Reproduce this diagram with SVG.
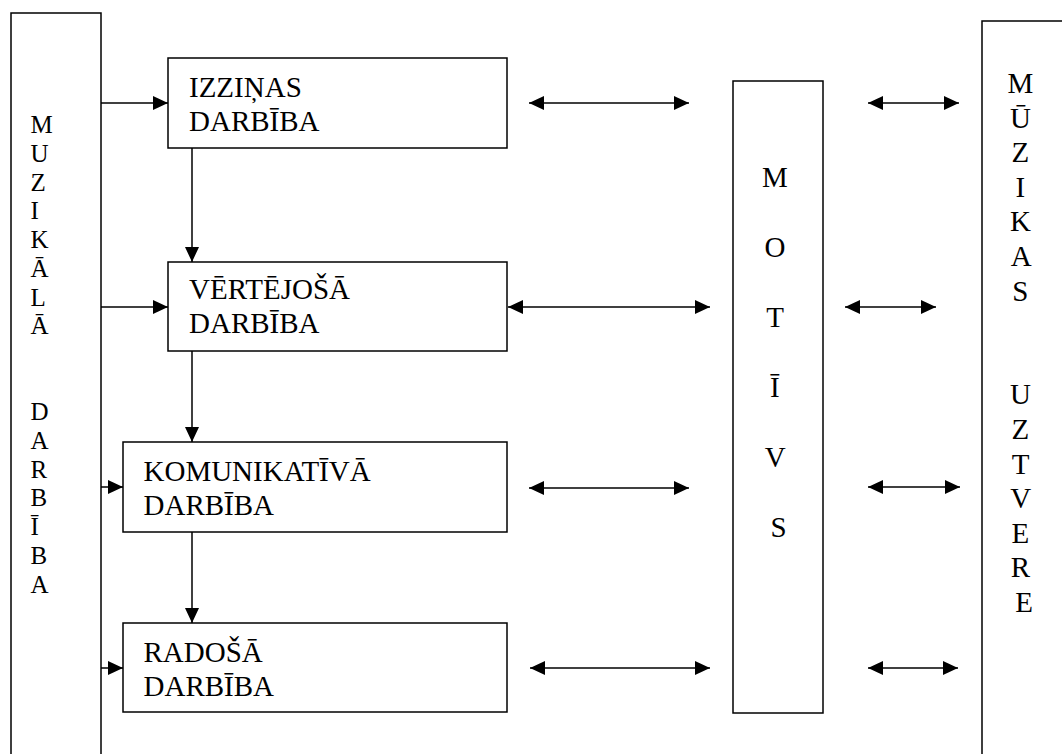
<svg xmlns="http://www.w3.org/2000/svg" width="1062" height="754" viewBox="0 0 1062 754">
  <style>
    .box { fill: #ffffff; stroke: #000000; stroke-width: 1.5; }
    text { font-family: 'Liberation Serif', Tinos, 'Times New Roman', 'Noto Serif', 'DejaVu Serif', serif; fill: #000000; }
    .lbl { font-size: 29px; }
    .conn line { stroke: #000000; stroke-width: 1.5; fill: none; }
    .one { marker-end: url(#head); }
    .two { marker-start: url(#head); marker-end: url(#head); }
  </style>
  <defs>
    <marker id="head" markerUnits="userSpaceOnUse" markerWidth="17" markerHeight="16" refX="15" refY="7" orient="auto-start-reverse" viewBox="0 0 17 16">
      <path d="M0,0 L15,7 L0,14 Z" fill="#000000"/>
    </marker>
  </defs>
  <rect width="1062" height="754" fill="#ffffff"/>

  <!-- left column: MUZIKĀLĀ DARBĪBA -->
  <g id="muzikala-darbiba">
    <rect class="box" x="11" y="13" width="90" height="760"/>
    <text font-family="Liberation Serif, serif" font-size="25">
      <tspan x="30.5" y="133.3">M</tspan>
      <tspan x="30.5" y="162">U</tspan>
      <tspan x="30.5" y="190.7">Z</tspan>
      <tspan x="30.5" y="219.4">I</tspan>
      <tspan x="30.5" y="248.1">K</tspan>
      <tspan x="30.5" y="276.8">Ā</tspan>
      <tspan x="30.5" y="305.5">L</tspan>
      <tspan x="30.5" y="334.2">Ā</tspan>
      <tspan x="30.5" y="420.3">D</tspan>
      <tspan x="30.5" y="449">A</tspan>
      <tspan x="30.5" y="477.7">R</tspan>
      <tspan x="30.5" y="506.4">B</tspan>
      <tspan x="30.5" y="535.1">Ī</tspan>
      <tspan x="30.5" y="563.8">B</tspan>
      <tspan x="30.5" y="592.5">A</tspan>
    </text>
  </g>

  <!-- activity boxes -->
  <g id="izzinas-darbiba">
    <rect class="box" x="168" y="58" width="339" height="90"/>
    <text class="lbl"><tspan x="189" y="96.5">IZZIŅAS</tspan><tspan x="189" y="130.7">DARBĪBA</tspan></text>
  </g>
  <g id="vertejosa-darbiba">
    <rect class="box" x="168" y="262" width="339" height="89"/>
    <text class="lbl"><tspan x="189" y="299.3">VĒRTĒJOŠĀ</tspan><tspan x="189" y="333.3">DARBĪBA</tspan></text>
  </g>
  <g id="komunikativa-darbiba">
    <rect class="box" x="123" y="442" width="384" height="90"/>
    <text class="lbl"><tspan x="143.5" y="481">KOMUNIKATĪVĀ</tspan><tspan x="143.5" y="515">DARBĪBA</tspan></text>
  </g>
  <g id="radosa-darbiba">
    <rect class="box" x="123" y="623" width="384" height="89"/>
    <text class="lbl"><tspan x="143.5" y="662">RADOŠĀ</tspan><tspan x="143.5" y="695.5">DARBĪBA</tspan></text>
  </g>

  <!-- MOTĪVS column -->
  <g id="motivs">
    <rect class="box" x="733" y="81" width="90" height="632"/>
    <text font-size="29" text-anchor="middle">
      <tspan x="778.5" y="187.3">M</tspan>
      <tspan x="778.5" y="257.2">O</tspan>
      <tspan x="778.5" y="327.1">T</tspan>
      <tspan x="778.5" y="397">Ī</tspan>
      <tspan x="778.5" y="466.9">V</tspan>
      <tspan x="778.5" y="536.8">S</tspan>
    </text>
  </g>

  <!-- right column: MŪZIKAS UZTVERE -->
  <g id="muzikas-uztvere">
    <rect class="box" x="982" y="21" width="110" height="760"/>
    <text font-size="29" text-anchor="middle">
      <tspan x="1024" y="93">M</tspan>
      <tspan x="1024" y="127.6">Ū</tspan>
      <tspan x="1024" y="162.2">Z</tspan>
      <tspan x="1024" y="196.8">I</tspan>
      <tspan x="1024" y="231.4">K</tspan>
      <tspan x="1024" y="266">A</tspan>
      <tspan x="1024" y="300.6">S</tspan>
      <tspan x="1024" y="404.4">U</tspan>
      <tspan x="1024" y="439">Z</tspan>
      <tspan x="1024" y="473.6">T</tspan>
      <tspan x="1024" y="508.2">V</tspan>
      <tspan x="1024" y="542.8">E</tspan>
      <tspan x="1024" y="577.4">R</tspan>
      <tspan x="1024" y="612">E</tspan>
    </text>
  </g>

  <!-- connectors -->
  <g id="connectors" class="conn">
    <line class="one" x1="101" y1="103" x2="168" y2="103"/>
    <line class="one" x1="101" y1="307" x2="168" y2="307"/>
    <line class="one" x1="101" y1="487" x2="123" y2="487"/>
    <line class="one" x1="101" y1="668" x2="123" y2="668"/>

    <line class="one" x1="192" y1="148" x2="192" y2="262"/>
    <line class="one" x1="192" y1="351" x2="192" y2="442"/>
    <line class="one" x1="192" y1="532" x2="192" y2="623"/>

    <line class="two" x1="529" y1="103" x2="689" y2="103"/>
    <line class="two" x1="508" y1="307" x2="710" y2="307"/>
    <line class="two" x1="529" y1="488" x2="689" y2="488"/>
    <line class="two" x1="530" y1="668" x2="710" y2="668"/>

    <line class="two" x1="868" y1="103" x2="959" y2="103"/>
    <line class="two" x1="845" y1="307" x2="936" y2="307"/>
    <line class="two" x1="868" y1="487" x2="960" y2="487"/>
    <line class="two" x1="868" y1="668" x2="958" y2="668"/>
  </g>
</svg>
